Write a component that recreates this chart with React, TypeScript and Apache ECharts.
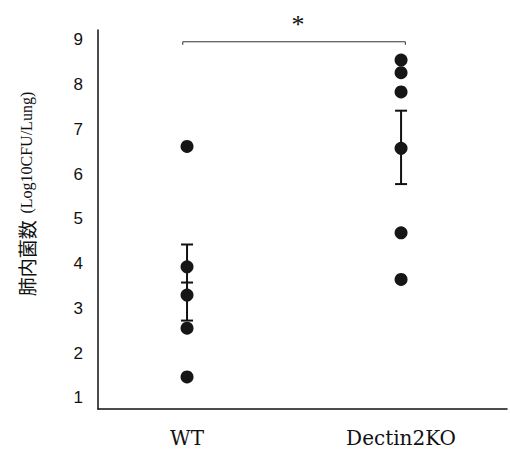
import React, { useEffect, useRef } from "react";
import * as echarts from "echarts";

const groups = ["WT", "Dectin2KO"];
const groupX = [1, 2];
const wtValues = [6.62, 3.93, 3.3, 2.56, 1.47];
const koValues = [8.55, 8.27, 7.84, 6.58, 4.69, 3.65];
const means = [3.58, 6.6];
const sems = [0.85, 0.82];
const yTicks = [1, 2, 3, 4, 5, 6, 7, 8, 9];
const bracketX = [0.98, 2.02];
const bracketY = [8.96, 8.89];

export default function App() {
  const ref = useRef<HTMLDivElement>(null);
  useEffect(() => {
    if (!ref.current) return;
    document.body.style.margin = "0";
    const chart = echarts.init(ref.current, null, { renderer: "svg" });
    const scatterData: number[][] = [];
    wtValues.forEach((v) => scatterData.push([groupX[0], v]));
    koValues.forEach((v) => scatterData.push([groupX[1], v]));
    const errData = groupX.map((x, i) => [x, means[i], sems[i]]);
    const bracketData = [
      [bracketX[0], bracketY[1]],
      [bracketX[0], bracketY[0]],
      [bracketX[1], bracketY[0]],
      [bracketX[1], bracketY[1]],
    ];
    chart.setOption({
      animation: false,
      backgroundColor: "#fff",
      grid: { left: 98, top: 30, right: 3, bottom: 41 },
      xAxis: {
        type: "value",
        min: 0.584,
        max: 2.495,
        splitLine: { show: false },
        axisTick: { show: false },
        axisLine: { show: true, lineStyle: { color: "#111", width: 1.5 } },
        axisLabel: {
          customValues: groupX,
          formatter: (v: number) => groups[groupX.indexOf(v)] ?? "",
          fontFamily: "DejaVu Serif",
          fontSize: 20,
          color: "#111",
          margin: 19,
        },
      },
      yAxis: {
        type: "value",
        min: 0.754,
        max: 9.223,
        splitLine: { show: false },
        axisTick: { show: false },
        axisLine: { show: true, lineStyle: { color: "#111", width: 1.5 } },
        axisLabel: {
          customValues: yTicks,
          fontFamily: "Liberation Sans",
          fontSize: 17,
          color: "#111",
          margin: 15,
        },
      },
      graphic: [
        {
          type: "text",
          x: 26,
          y: 194,
          rotation: Math.PI / 2,
          style: {
            text: "{cn|肺内菌数}  {en|(Log10CFU/Lung)}",
            align: "center",
            verticalAlign: "middle",
            fill: "#111",
            rich: {
              cn: { fontFamily: "Noto Sans CJK JP", fontSize: 19, fill: "#111" },
              en: { fontFamily: "Liberation Serif", fontSize: 16, fill: "#111" },
            },
          },
        },
        {
          type: "text",
          x: 298,
          y: 24,
          style: {
            text: "*",
            align: "center",
            verticalAlign: "middle",
            fontFamily: "Liberation Serif",
            fontSize: 26,
            fill: "#111",
          },
        },
      ],
      series: [
        {
          type: "line",
          data: bracketData,
          symbol: "none",
          lineStyle: { color: "#333", width: 1 },
          clip: false,
          z: 1,
        },
        {
          type: "custom",
          data: errData,
          renderItem: (params: any, api: any) => {
            const x = api.value(0);
            const m = api.value(1);
            const s = api.value(2);
            const top = api.coord([x, m + s]);
            const mid = api.coord([x, m]);
            const bot = api.coord([x, m - s]);
            const hw = 6;
            const st = { stroke: "#111", lineWidth: 2 };
            return {
              type: "group",
              children: [
                { type: "line", shape: { x1: top[0], y1: top[1], x2: bot[0], y2: bot[1] }, style: st },
                { type: "line", shape: { x1: top[0] - hw, y1: top[1], x2: top[0] + hw, y2: top[1] }, style: st },
                { type: "line", shape: { x1: mid[0] - hw, y1: mid[1], x2: mid[0] + hw, y2: mid[1] }, style: st },
                { type: "line", shape: { x1: bot[0] - hw, y1: bot[1], x2: bot[0] + hw, y2: bot[1] }, style: st },
              ],
            };
          },
          z: 2,
        },
        {
          type: "scatter",
          data: scatterData,
          symbol: "circle",
          symbolSize: 13,
          itemStyle: { color: "#161616", opacity: 1 },
          z: 3,
        },
      ],
    });
    return () => chart.dispose();
  }, []);
  return <div ref={ref} style={{ width: 510, height: 450 }} />;
}
